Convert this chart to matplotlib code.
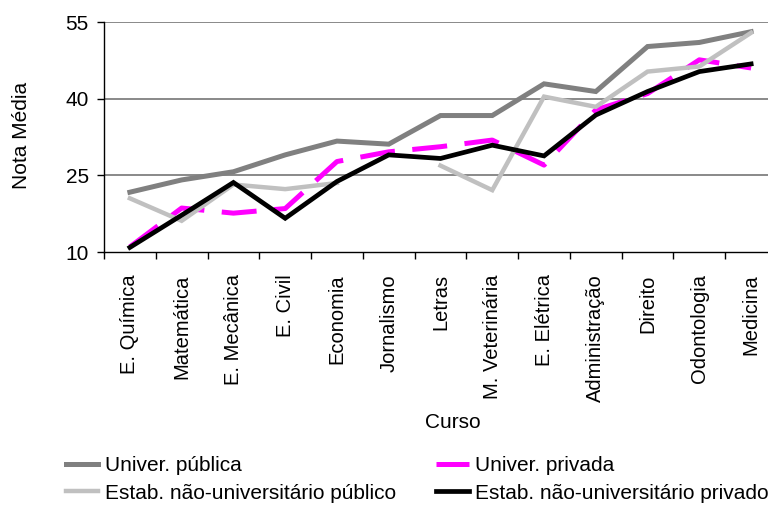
import numpy as np
import matplotlib

matplotlib.use("Agg")
import matplotlib.pyplot as plt

plt.rcParams["font.family"] = ["Liberation Sans", "DejaVu Sans"]

# ── Data ────────────────────────────────────────────────────────────────────
cursos = ["E. Química", "Matemática", "E. Mecânica", "E. Civil", "Economia",
          "Jornalismo", "Letras", "M. Veterinária", "E. Elétrica",
          "Administração", "Direito", "Odontologia", "Medicina"]

univ_publica = [21.7, 24.1, 25.7, 29.0, 31.7, 31.1, 36.7, 36.7, 42.9, 41.4, 50.2, 51.0, 53.1]
univ_privada = [11.0, 18.6, 17.6, 18.5, 27.7, 29.6, 30.6, 31.9, 27.0, 37.8, 41.0, 47.6, 46.0]
estab_publico = [20.5, 16.1, 23.2, 22.3, 23.5, np.nan, 26.9, 22.1, 40.4, 38.4, 45.3, 46.3, 52.9]
estab_privado = [10.9, 17.2, 23.6, 16.6, 23.8, 29.0, 28.3, 30.9, 28.8, 36.8, 41.4, 45.3, 46.8]

yticks = [10, 25, 40, 55]

# ── Figure ──────────────────────────────────────────────────────────────────
W, H = 768, 505
fig = plt.figure(figsize=(W / 100, H / 100), dpi=100)
fig.patch.set_facecolor("white")
ax = fig.add_axes([104 / W, 1 - 252 / H, (777 - 104) / W, (252 - 22) / H])

x = np.arange(len(cursos)) + 0.5

for yv in yticks[1:]:
    ax.axhline(yv, color="#808080", lw=1.3, zorder=1)

l1, = ax.plot(x, univ_publica, color="#808080", lw=3.6, zorder=3,
              solid_joinstyle="miter")
l2, = ax.plot(x, univ_privada, color="#ff00ff", lw=3.6, zorder=4,
              dashes=(7, 3.5))
l3, = ax.plot(x, estab_publico, color="#c0c0c0", lw=3.2, zorder=5,
              solid_joinstyle="miter")
l4, = ax.plot(x, estab_privado, color="black", lw=3.4, zorder=6,
              solid_joinstyle="miter")

ax.set_xlim(0, len(cursos))
ax.set_ylim(10, 55)

ax.set_yticks(yticks)
ax.set_yticklabels([str(v) for v in yticks], fontsize=15)
ax.tick_params(axis="y", direction="out", length=5, width=1, pad=6)

ax.set_xticks(x)
ax.set_xticklabels(cursos, rotation=90, fontsize=14.5)
ax.set_xticks(np.arange(len(cursos) + 1), minor=True)
ax.tick_params(axis="x", which="major", length=0, pad=16)
ax.tick_params(axis="x", which="minor", direction="out", length=5, width=1)

for side in ["top", "right"]:
    ax.spines[side].set_visible(False)
for side in ["left", "bottom"]:
    ax.spines[side].set_color("black")
    ax.spines[side].set_linewidth(1.0)

fig.text(22 / W, 1 - 135 / H, "Nota Média", rotation=90, ha="center",
         va="center", fontsize=15)
fig.text(453 / W, 1 - 423 / H, "Curso", ha="center", va="center", fontsize=15)

# legend (row-wise as in reference)
handles = [l1, l3, l2, l4]
labels = ["Univer. pública", "Estab. não-universitário público",
          "Univer. privada", "Estab. não-universitário privado"]
fig.legend(handles, labels, ncol=2, loc="upper left",
           bbox_to_anchor=(66 / W, 1 - 456 / H), frameon=False, fontsize=15,
           handlelength=1.55, handletextpad=0.3, columnspacing=1.95,
           labelspacing=0.42, borderpad=0, borderaxespad=0)

fig.savefig("out.png", dpi=100, facecolor="white")
